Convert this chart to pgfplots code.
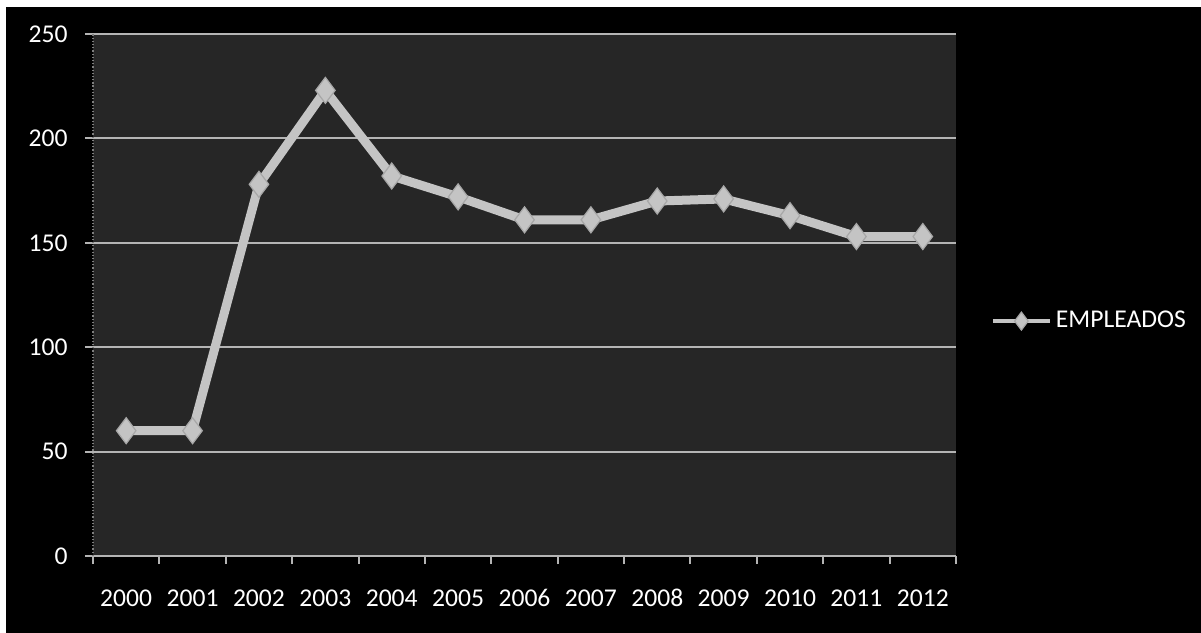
\documentclass[border=0pt]{standalone}
\usepackage{fontspec}
\setmainfont{Carlito}
\usepackage{pgfplots}
\usepackage{pgfplotstable}
\pgfplotsset{compat=1.18}

\definecolor{serie}{RGB}{196,196,196}
\definecolor{fondo}{RGB}{38,38,38}
\definecolor{rejilla}{RGB}{180,180,180}

% EMPLEADOS por anio (0 = 2000)
\pgfplotstableread{
anio valor
0 60
1 60
2 178
3 223
4 182
5 172
6 161
7 161
8 170
9 171
10 163
11 153
12 153
}\empleados

\newcommand{\rotulo}{\fontsize{12.8bp}{15bp}\selectfont}

\begin{document}
\begin{tikzpicture}
\fill[white] (0bp,0bp) rectangle (600.5bp,316.5bp);
\fill[black] (3bp,0bp) rectangle (600.5bp,313bp);
\begin{axis}[
  at={(46.5bp,38.5bp)}, anchor=south west,
  scale only axis, width=431.5bp, height=261bp,
  xmin=-0.5, xmax=12.5, ymin=0, ymax=250,
  axis background/.style={fill=fondo},
  ytick={0,50,...,250},
  ymajorgrids, grid style={rejilla, line width=1bp},
  xtick={-0.5,0.5,...,12.5}, xticklabels={},
  extra x ticks={0,1,2,3,4,5,6,7,8,9,10,11,12},
  extra x tick labels={2000,2001,2002,2003,2004,2005,2006,2007,2008,2009,2010,2011,2012},
  extra x tick style={major tick length=0pt, grid=none},
  tick align=outside, major tick length=4bp,
  tick style={rejilla, line width=1bp},
  axis x line*=bottom, axis y line*=left,
  x axis line style={rejilla, line width=1bp, -},
  y axis line style={rejilla!70!black, line width=0.6bp, densely dotted, -},
  tick label style={white, font=\rotulo},
  /pgf/number format/assume math mode=true,
  xticklabel style={anchor=center, inner sep=0pt, yshift=-21bp},
  yticklabel style={anchor=east, inner sep=0pt, xshift=-8.5bp},
  legend style={at={(1.04,0.45)}, anchor=west, draw=none, fill=none,
    text=white, font=\rotulo, inner sep=0pt},
  legend image code/.code={\draw[mark repeat=2, mark phase=2, #1,
    line width=2bp, mark size=4.5bp]
    plot coordinates {(0bp,0bp) (14.25bp,0bp) (28.5bp,0bp)};},
]
\addplot[color=serie, line width=4.5bp, mark=diamond*, mark size=6.5bp,
  mark options={fill=serie, draw=serie!85!black, line width=0.6bp}]
  table[x=anio, y=valor] {\empleados};
\legend{EMPLEADOS}
\end{axis}
\end{tikzpicture}
\end{document}
